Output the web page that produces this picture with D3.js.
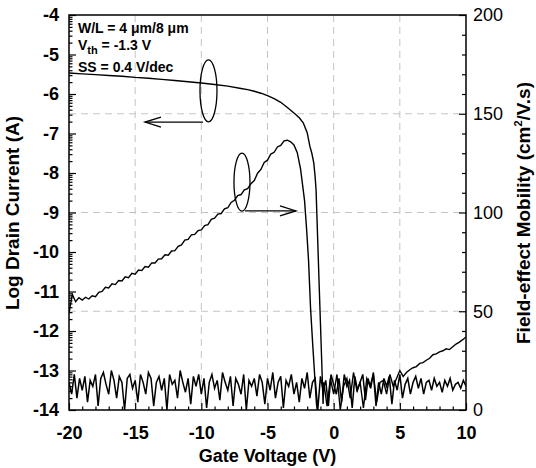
<!DOCTYPE html>
<html>
<head>
<meta charset="utf-8">
<script src="https://cdn.jsdelivr.net/npm/d3@7"></script>
<style>
  body { margin: 0; background: #fff; }
  svg { display: block; font-family: "Liberation Sans", Arial, sans-serif; }
  .tk text { font-weight: bold; font-size: 18px; fill: #000; }
  .tkR text { font-size: 18px; fill: #000; }
  .tick line { stroke: #000; stroke-width: 1.2; }
</style>
</head>
<body>
<div id="chart"></div>
<script>
// drain current, on-state + subthreshold (log10 A)
var idOnV = [-20, -19, -18, -17, -16, -15, -14, -13, -12, -11, -10, -9, -8, -7, -6.5, -6, -5.5, -5, -4.5, -4,
  -3.5, -3, -2.6, -2.3, -2.0, -1.8, -1.65, -1.5, -1.4, -1.33, -1.2, -1.1, -1.0, -0.9, -0.8];
var idOnLog = [-5.47, -5.49, -5.51, -5.53, -5.55, -5.58, -5.60, -5.63, -5.66, -5.69, -5.72, -5.76, -5.80, -5.86, -5.89, -5.93, -5.98, -6.04, -6.12, -6.21,
  -6.34, -6.48, -6.6, -6.73, -6.98, -7.32, -7.5, -7.75, -8.1, -8.43, -9.76, -10.79, -11.8, -12.8, -13.85];

// drain current, off-state from -0.75 V to 10 V (0.25 V steps)
var idOffLog = [-13.3, -13.9, -13.2, -13.6, -13.1, -14.0, -13.4, -13.2, -13.7, -13.05, -13.5, -13.3, -13.95, -13.2, -13.4, -13.1,
  -13.8, -13.3, -13.25, -13.6, -13.1, -13.4, -13.2, -13.0, -13.15, -13.05,
  -12.98, -12.93, -12.9, -12.82, -12.8, -12.74, -12.69, -12.6, -12.58, -12.53, -12.5, -12.45, -12.47, -12.4, -12.33, -12.28, -12.22, -12.15];

// gate leakage floor, -20 V to 10 V (0.2 V steps)
var igLog = [
  -13.3, -13.6, -13.1, -13.7, -13.2, -13.5, -13.15, -13.8, -13.25, -13.4,
  -13.1, -13.9, -13.2, -13.05, -13.35, -13.6, -13.0, -13.25, -13.7, -13.15,
  -13.3, -14.0, -13.2, -13.1, -13.45, -13.25, -13.8, -13.1, -13.3, -13.6,
  -13.05, -13.2, -13.9, -13.3, -13.15, -13.5, -13.2, -14.0, -13.1, -13.35,
  -13.25, -13.7, -13.0, -13.3, -13.55, -13.2, -13.85, -13.15, -13.4, -13.1,
  -13.6, -13.2, -13.95, -13.3, -13.1, -13.45, -13.25, -13.75, -13.05, -13.3,
  -13.5, -13.15, -13.9, -13.2, -13.35, -13.6, -13.1, -14.0, -13.25, -13.4,
  -13.2, -13.65, -13.1, -13.3, -13.85, -13.2, -13.5, -13.05, -13.7, -13.3,
  -13.15, -13.95, -13.25, -13.4, -13.1, -13.6, -13.3, -13.8, -13.2, -13.45,
  -13.05, -13.7, -13.3, -13.2, -14.0, -13.15, -13.5, -13.25, -13.9, -13.1,
  -13.35, -13.6, -13.2, -13.8, -13.1, -13.4, -13.25, -13.95, -13.15, -13.5,
  -13.3, -13.1, -13.75, -13.2, -13.45, -13.05, -13.9, -13.3, -13.6, -13.2,
  -13.4, -13.15, -13.85, -13.25, -13.5, -13.1, -13.7, -13.35, -13.2, -13.6,
  -13.3, -13.15, -13.45, -13.2, -13.6, -13.3, -13.25, -13.5, -13.2, -13.4,
  -13.3, -13.55, -13.25, -13.4, -13.2, -13.5, -13.35, -13.3, -13.45, -13.25,
  -13.4];

// field-effect mobility (cm2/V.s), -20 V to -3.5 V in 0.25 V steps, then the drop
var mobVal = [
  49.0, 58.5, 54.8, 56.9, 55.7, 57.1, 56.2, 57.8, 57.4, 59.6, 60.0, 62.1, 61.8, 63.9, 63.5, 65.6, 65.3, 67.4, 67.0, 69.2, 68.8,
  70.9, 70.6, 72.6, 72.3, 74.5, 74.4, 76.4, 76.6, 78.6, 78.4, 80.5, 80.7, 82.9, 83.6, 86.0, 86.4, 88.7, 88.9, 90.8, 91.2,
  93.4, 93.9, 96.5, 97.1, 99.2, 99.5, 101.8, 102.4, 105.1, 106.2, 108.6, 109.1, 111.5, 112.1, 114.6, 116.2, 119.9, 121.8, 125.3, 126.5,
  129.6, 130.5, 133.2, 134.0, 136.3, 136.6];
var mobTailV = [-3.25, -3, -2.75, -2.5, -2.35, -2.2, -2.05, -1.9, -1.75, -1.6, -1.45, -1.3, -1.24];
var mobTailVal = [135.8, 134.2, 130.3, 122, 114, 106, 92, 76, 52, 35, 19, 3, 0];

var xTicks = [-20, -15, -10, -5, 0, 5, 10];
var yLeftTicks = [-14, -13, -12, -11, -10, -9, -8, -7, -6, -5, -4];
var yRightTicks = [0, 50, 100, 150, 200];

var W = 536, H = 468;
var margin = { top: 15, right: 70, bottom: 58, left: 69 };
var width = W - margin.left - margin.right;   // 397
var height = H - margin.top - margin.bottom;  // 395

var svg = d3.select("#chart").append("svg").attr("width", W).attr("height", H);
var g = svg.append("g").attr("transform", `translate(${margin.left}, ${margin.top})`);

var x = d3.scaleLinear().domain([-20, 10]).range([0, width]);
var yL = d3.scaleLinear().domain([-14, -4]).range([height, 0]);
var yR = d3.scaleLinear().domain([0, 200]).range([height, 0]);

// plain hyphen for negative labels, as in the original
var fmt = function (d) { return String(d); };

// grid
var grid = g.append("g").attr("stroke", "#c4c4c4").attr("stroke-width", 1).attr("stroke-dasharray", "7,5");
[-15, -10, -5, 0, 5].forEach(function (v) {
  grid.append("line").attr("x1", x(v)).attr("x2", x(v)).attr("y1", 0).attr("y2", height);
});
[50, 100, 150].forEach(function (v) {
  grid.append("line").attr("x1", 0).attr("x2", width).attr("y1", yR(v)).attr("y2", yR(v));
});

// minor tick positions
var logMinor = [];
for (var d = -14; d < -4; d++) {
  for (var k = 2; k <= 9; k++) logMinor.push(d + Math.log10(k));
}
var xMinor = d3.range(-20, 10.5, 1).filter(function (v) { return v % 5 !== 0; });
var rMinor = d3.range(0, 201, 10).filter(function (v) { return v % 50 !== 0; });

// axes
g.append("g").attr("class", "tk")
  .call(d3.axisLeft(yL).tickValues(yLeftTicks).tickSizeInner(-7).tickSizeOuter(0).tickPadding(10).tickFormat(fmt))
  .call(function (s) { s.select(".domain").remove(); });
g.append("g")
  .call(d3.axisLeft(yL).tickValues(logMinor).tickSizeInner(-3.5).tickSizeOuter(0).tickFormat(""))
  .call(function (s) { s.select(".domain").remove(); });

g.append("g").attr("class", "tk").attr("transform", `translate(0, ${height})`)
  .call(d3.axisBottom(x).tickValues(xTicks).tickSizeInner(-7).tickSizeOuter(0).tickPadding(16).tickFormat(fmt))
  .call(function (s) { s.select(".domain").remove(); });
g.append("g").attr("transform", `translate(0, ${height})`)
  .call(d3.axisBottom(x).tickValues(xMinor).tickSizeInner(-3.5).tickSizeOuter(0).tickFormat(""))
  .call(function (s) { s.select(".domain").remove(); });

g.append("g").attr("class", "tkR").attr("transform", `translate(${width}, 0)`)
  .call(d3.axisRight(yR).tickValues(yRightTicks).tickSizeInner(-7).tickSizeOuter(0).tickPadding(7).tickFormat(fmt))
  .call(function (s) { s.select(".domain").remove(); });
g.append("g").attr("transform", `translate(${width}, 0)`)
  .call(d3.axisRight(yR).tickValues(rMinor).tickSizeInner(-4).tickSizeOuter(0).tickFormat(""))
  .call(function (s) { s.select(".domain").remove(); });

// curves
g.append("clipPath").attr("id", "plotclip").append("rect")
  .attr("width", width).attr("height", height);
var plot = g.append("g").attr("clip-path", "url(#plotclip)");

var idV = idOnV.concat(d3.range(-0.75, 10.01, 0.25));
var idLog = idOnLog.concat(idOffLog);
var idData = idV.map(function (v, i) { return [v, idLog[i]]; });
var igData = d3.range(-20, 10.01, 0.2).map(function (v, i) { return [v, igLog[i]]; });
var mobV = d3.range(-20, -3.49, 0.25).concat(mobTailV);
var mobAll = mobVal.concat(mobTailVal);
var mobData = mobV.map(function (v, i) { return [v, mobAll[i]]; });

var lineL = d3.line().x(function (d) { return x(d[0]); }).y(function (d) { return yL(d[1]); });
var lineR = d3.line().x(function (d) { return x(d[0]); }).y(function (d) { return yR(d[1]); });

plot.append("path").datum(igData).attr("d", lineL)
  .attr("fill", "none").attr("stroke", "#000").attr("stroke-width", 1.5);
plot.append("path").datum(idData).attr("d", lineL)
  .attr("fill", "none").attr("stroke", "#000").attr("stroke-width", 1.4);
plot.append("path").datum(mobData).attr("d", lineR)
  .attr("fill", "none").attr("stroke", "#000").attr("stroke-width", 1.4);

// frame
g.append("rect").attr("width", width).attr("height", height)
  .attr("fill", "none").attr("stroke", "#000").attr("stroke-width", 1.5);

// ellipse + arrow annotations
function arrow(x1, y1, x2, dir) {
  var a = g.append("g").attr("fill", "none").attr("stroke", "#000").attr("stroke-width", 1.3);
  a.append("line").attr("x1", x1).attr("y1", y1).attr("x2", x2).attr("y2", y1);
  a.append("path").attr("d", `M${x2 - dir * 16},${y1 - 5} L${x2},${y1} L${x2 - dir * 16},${y1 + 5}`);
}
g.append("ellipse").attr("cx", x(-9.46)).attr("cy", yL(-5.92)).attr("rx", 8.5).attr("ry", 31)
  .attr("fill", "none").attr("stroke", "#000").attr("stroke-width", 1.3);
arrow(x(-9.87), yL(-6.71), x(-14.26), -1);
g.append("ellipse").attr("cx", x(-6.93)).attr("cy", yL(-8.23)).attr("rx", 8).attr("ry", 29)
  .attr("fill", "none").attr("stroke", "#000").attr("stroke-width", 1.3);
arrow(x(-6.7), yL(-8.96), x(-2.85), 1);

// parameter text
var info = g.append("g").attr("font-weight", "bold").attr("font-size", 14).attr("fill", "#000");
info.append("text").attr("x", 9).attr("y", 18).text("W/L = 4 \u03bcm/8 \u03bcm");
var vt = info.append("text").attr("x", 9).attr("y", 35);
vt.append("tspan").text("V");
vt.append("tspan").attr("font-size", 11).attr("dy", 4).text("th");
vt.append("tspan").attr("dy", -4).text(" = -1.3 V");
info.append("text").attr("x", 9).attr("y", 57).text("SS = 0.4 V/dec");

// axis titles
svg.append("text").attr("x", margin.left + width / 2).attr("y", 462)
  .attr("text-anchor", "middle").attr("font-weight", "bold").attr("font-size", 18)
  .text("Gate Voltage (V)");
svg.append("text").attr("transform", "translate(19, 213) rotate(-90)")
  .attr("text-anchor", "middle").attr("font-weight", "bold").attr("font-size", 19)
  .text("Log Drain Current (A)");
var rt = svg.append("text").attr("transform", "translate(530, 213) rotate(-90)")
  .attr("text-anchor", "middle").attr("font-weight", "bold").attr("font-size", 19);
rt.append("tspan").text("Field-effect Mobility (cm");
rt.append("tspan").attr("font-size", 11).attr("dy", -8).text("2");
rt.append("tspan").attr("dy", 8).text("/V.s)");
</script>
</body>
</html>
